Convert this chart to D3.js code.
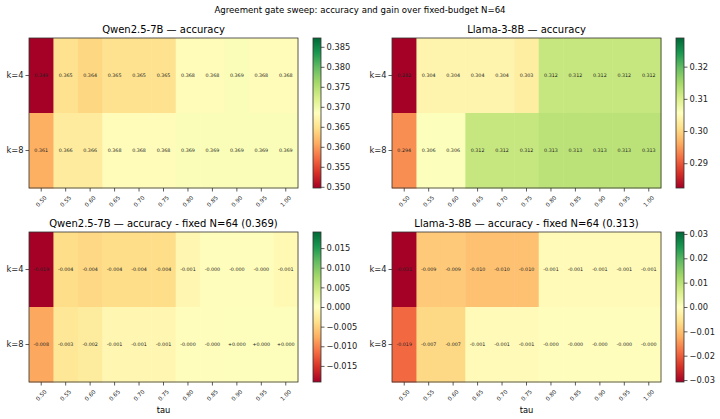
<!DOCTYPE html>
<html lang="en">
<head>
<meta charset="utf-8">
<title>Agreement gate sweep</title>
<script src="https://cdn.jsdelivr.net/npm/d3@7"></script>
<style>
  body { margin: 0; background: #fff; }
  svg { font-family: "DejaVu Sans", sans-serif; }
</style>
</head>
<body>
<script>
// data
var taus = ["0.50", "0.55", "0.60", "0.65", "0.70", "0.75", "0.80", "0.85", "0.90", "0.95", "1.00"];
var ks = ["k=4", "k=8"];

var qwenAccK4 = [0.349, 0.365, 0.364, 0.365, 0.365, 0.365, 0.368, 0.368, 0.369, 0.368, 0.368];
var qwenAccK8 = [0.361, 0.366, 0.366, 0.368, 0.368, 0.368, 0.369, 0.369, 0.369, 0.369, 0.369];
var llamaAccK4 = [0.282, 0.304, 0.304, 0.304, 0.304, 0.303, 0.312, 0.312, 0.312, 0.312, 0.312];
var llamaAccK8 = [0.294, 0.306, 0.306, 0.312, 0.312, 0.312, 0.313, 0.313, 0.313, 0.313, 0.313];

var qwenGainK4 = [-0.0191, -0.0040, -0.0044, -0.0040, -0.0040, -0.0040, -0.0010, -0.0003, -0.0002, -0.0003, -0.0008];
var qwenGainK8 = [-0.0080, -0.0030, -0.0024, -0.0010, -0.0010, -0.0010, -0.0002, -0.0002, 0.0002, 0.0002, 0.0002];
var llamaGainK4 = [-0.0308, -0.0090, -0.0090, -0.0100, -0.0100, -0.0100, -0.0010, -0.0010, -0.0010, -0.0010, -0.0010];
var llamaGainK8 = [-0.0190, -0.0070, -0.0070, -0.0010, -0.0010, -0.0010, -0.0003, -0.0003, -0.0003, -0.0003, -0.0003];

var qwenTicks = [0.350, 0.355, 0.360, 0.365, 0.370, 0.375, 0.380, 0.385];
var llamaTicks = [0.29, 0.30, 0.31, 0.32];
var qwenGainTicks = [-0.015, -0.010, -0.005, 0.000, 0.005, 0.010, 0.015];
var llamaGainTicks = [-0.03, -0.02, -0.01, 0.00, 0.01, 0.02, 0.03];

var W = 720, H = 419;
var aw = 269, ah = 150;

// matplotlib-style RdYlGn: linear between the 11 brewer colours
var rdylgn = d3.schemeRdYlGn[11];
function makeColor(lo, hi) {
  var stops = d3.range(11).map(function(i) { return lo + (hi - lo) * i / 10; });
  return d3.scaleLinear().domain(stops).range(rdylgn).clamp(true);
}

function accFmt(v) { return v.toFixed(3); }
function gainFmt(v) { return (v < 0 ? "-" : "+") + Math.abs(v).toFixed(3); }

var panels = [
  {title: "Qwen2.5-7B \u2014 accuracy", rows: [qwenAccK4, qwenAccK8], lo: 0.3497, hi: 0.3872,
   ticks: qwenTicks, tfmt: d3.format(".3f"), cfmt: accFmt, x: 29, y: 38, xlabel: false},
  {title: "Llama-3-8B \u2014 accuracy", rows: [llamaAccK4, llamaAccK8], lo: 0.2823, hi: 0.3289,
   ticks: llamaTicks, tfmt: d3.format(".2f"), cfmt: accFmt, x: 392, y: 38, xlabel: false},
  {title: "Qwen2.5-7B \u2014 accuracy - fixed N=64 (0.369)", rows: [qwenGainK4, qwenGainK8], lo: -0.0191, hi: 0.0191,
   ticks: qwenGainTicks, tfmt: d3.format(".3f"), cfmt: gainFmt, x: 29, y: 232, xlabel: true},
  {title: "Llama-3-8B \u2014 accuracy - fixed N=64 (0.313)", rows: [llamaGainK4, llamaGainK8], lo: -0.0308, hi: 0.0308,
   ticks: llamaGainTicks, tfmt: d3.format(".2f"), cfmt: gainFmt, x: 392, y: 232, xlabel: true}
];

var svg = d3.select("body").append("svg")
  .attr("width", W)
  .attr("height", H);

svg.append("text")
  .attr("x", W / 2)
  .attr("y", 13)
  .attr("text-anchor", "middle")
  .attr("font-size", "8.6px")
  .text("Agreement gate sweep: accuracy and gain over fixed-budget N=64");

var defs = svg.append("defs");

panels.forEach(function(p, pi) {
  var g = svg.append("g").attr("transform", "translate(" + p.x + "," + p.y + ")");
  var color = makeColor(p.lo, p.hi);

  var xScale = d3.scaleBand().domain(taus).range([0, aw]);
  var yScale = d3.scaleBand().domain(ks).range([0, ah]);

  var cells = [];
  p.rows.forEach(function(row, ri) {
    row.forEach(function(v, ci) { cells.push({k: ks[ri], tau: taus[ci], v: v}); });
  });

  g.selectAll("rect.cell")
    .data(cells)
    .enter()
    .append("rect")
    .attr("class", "cell")
    .attr("x", function(d) { return xScale(d.tau); })
    .attr("y", function(d) { return yScale(d.k); })
    .attr("width", xScale.bandwidth() + 0.5)
    .attr("height", yScale.bandwidth() + 0.5)
    .attr("fill", function(d) { return color(d.v); });

  g.selectAll("text.cell")
    .data(cells)
    .enter()
    .append("text")
    .attr("class", "cell")
    .attr("x", function(d) { return xScale(d.tau) + xScale.bandwidth() / 2; })
    .attr("y", function(d) { return yScale(d.k) + yScale.bandwidth() / 2; })
    .attr("dy", "0.35em")
    .attr("text-anchor", "middle")
    .attr("font-size", "4.8px")
    .attr("fill", "#222")
    .text(function(d) { return p.cfmt(d.v); });

  // frame
  g.append("rect")
    .attr("width", aw)
    .attr("height", ah)
    .attr("fill", "none")
    .attr("stroke", "#333")
    .attr("stroke-width", 0.8);

  // x axis
  var xAxis = g.append("g")
    .attr("transform", "translate(0," + ah + ")")
    .call(d3.axisBottom(xScale).tickSize(3.5).tickSizeOuter(0));
  xAxis.select(".domain").remove();
  xAxis.selectAll("line").attr("stroke", "#333").attr("stroke-width", 0.8);
  xAxis.selectAll("text")
    .attr("x", 0)
    .attr("y", 0)
    .attr("dy", "0.35em")
    .attr("text-anchor", "middle")
    .attr("transform", "translate(0,13.3) rotate(-45)")
    .attr("font-size", "5.7px")
    .attr("font-family", "DejaVu Sans, sans-serif")
    .attr("fill", "#222");

  // y axis
  var yAxis = g.append("g")
    .call(d3.axisLeft(yScale).tickSize(3.5).tickSizeOuter(0));
  yAxis.select(".domain").remove();
  yAxis.selectAll("line").attr("stroke", "#333").attr("stroke-width", 0.8);
  yAxis.selectAll("text")
    .attr("x", -5.5)
    .attr("font-size", "8.3px")
    .attr("font-family", "DejaVu Sans, sans-serif")
    .attr("fill", "#222");

  g.append("text")
    .attr("x", aw / 2)
    .attr("y", -5)
    .attr("text-anchor", "middle")
    .attr("font-size", "10px")
    .text(p.title);

  if (p.xlabel) {
    g.append("text")
      .attr("x", aw / 2)
      .attr("y", ah + 30.5)
      .attr("text-anchor", "middle")
      .attr("font-size", "8.3px")
      .text("tau");
  }

  // colorbar
  var gid = "cb" + pi;
  var grad = defs.append("linearGradient")
    .attr("id", gid)
    .attr("x1", 0).attr("y1", 1).attr("x2", 0).attr("y2", 0);
  grad.selectAll("stop")
    .data(rdylgn)
    .enter()
    .append("stop")
    .attr("offset", function(d, i) { return i / 10; })
    .attr("stop-color", function(d) { return d; });

  var cb = g.append("g").attr("transform", "translate(284,0)");
  var cw = 8;
  cb.append("rect")
    .attr("width", cw)
    .attr("height", ah)
    .attr("fill", "url(#" + gid + ")")
    .attr("stroke", "#333")
    .attr("stroke-width", 0.8);

  var cScale = d3.scaleLinear().domain([p.lo, p.hi]).range([ah, 0]);
  var cAxis = cb.append("g")
    .attr("transform", "translate(" + cw + ",0)")
    .call(d3.axisRight(cScale).tickValues(p.ticks).tickFormat(p.tfmt).tickSize(3.5).tickSizeOuter(0));
  cAxis.select(".domain").remove();
  cAxis.selectAll("line").attr("stroke", "#333").attr("stroke-width", 0.8);
  cAxis.selectAll("text")
    .attr("x", 5.5)
    .attr("font-size", "8.3px")
    .attr("font-family", "DejaVu Sans, sans-serif")
    .attr("fill", "#222");
});
</script>
</body>
</html>
